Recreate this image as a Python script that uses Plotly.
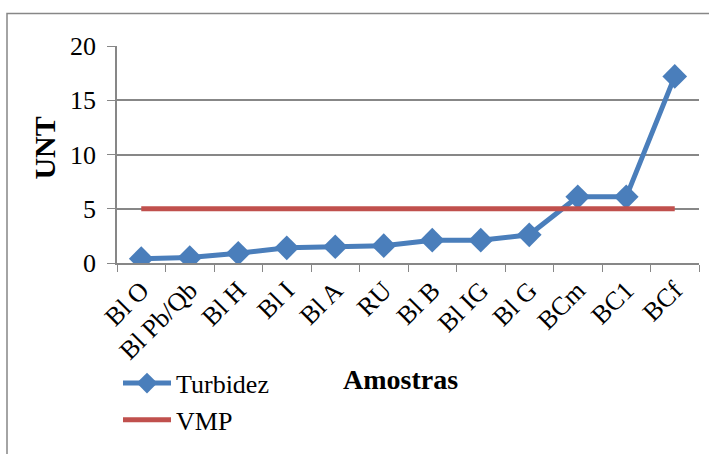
import plotly.graph_objects as go

# Turbidity per sampling point, with the maximum allowed value (VMP)
amostras = ["Bl O", "Bl Pb/Qb", "Bl H", "Bl I", "Bl A", "RU", "Bl B", "Bl IG", "Bl G", "BCm", "BC1", "BCf"]
turbidez = [0.4, 0.5, 0.9, 1.4, 1.5, 1.6, 2.1, 2.1, 2.6, 6.1, 6.1, 17.2]
vmp = [5, 5, 5, 5, 5, 5, 5, 5, 5, 5, 5, 5]
y_ticks = [0, 5, 10, 15, 20]

W, H = 709, 454
L, R, T, B = 117, 10, 46, 188
pw, ph = W - L - R, H - T - B

FONT = "Liberation Serif, Times New Roman, serif"
GREY = "#878787"
BLUE = "#4A7EBB"
RED = "#C0504D"

fig = go.Figure()
fig.add_trace(go.Scatter(
    x=amostras, y=turbidez, name="Turbidez", mode="lines+markers",
    line=dict(color=BLUE, width=5),
    marker=dict(symbol="diamond", size=19, color=BLUE),
))
fig.add_trace(go.Scatter(
    x=amostras, y=vmp, name="VMP", mode="lines",
    line=dict(color=RED, width=5),
))

def px_x(p):
    return (p - L) / pw

def px_y(p):
    return (H - B - p) / ph

# outer chart-area frame
fig.add_shape(type="rect", xref="paper", yref="paper",
              x0=px_x(7), x1=px_x(760), y0=px_y(500), y1=px_y(13),
              line=dict(color=GREY, width=1.5), layer="below")

fig.add_annotation(text="<b>UNT</b>", xref="paper", yref="paper",
                   x=px_x(45), y=px_y(150), xanchor="center", yanchor="middle",
                   showarrow=False, textangle=-90,
                   font=dict(family=FONT, size=30, color="black"))
fig.add_annotation(text="<b>Amostras</b>", xref="paper", yref="paper",
                   x=px_x(400), y=px_y(384), xanchor="center", yanchor="middle",
                   showarrow=False,
                   font=dict(family=FONT, size=28, color="black"))

fig.update_layout(
    width=W, height=H,
    margin=dict(l=L, r=R, t=T, b=B),
    paper_bgcolor="white", plot_bgcolor="white",
    font=dict(family=FONT, size=26, color="black"),
    showlegend=True,
    legend=dict(x=px_x(118), y=px_y(364), xanchor="left", yanchor="top",
                bgcolor="rgba(0,0,0,0)", font=dict(family=FONT, size=26),
                tracegroupgap=0, itemwidth=48),
)
fig.update_xaxes(
    type="category", tickson="boundaries", ticks="outside", ticklen=7,
    tickcolor=GREY, tickangle=-45, showline=True, linecolor=GREY, linewidth=1.5,
    showgrid=False, tickfont=dict(family=FONT, size=26),
    range=[-0.5, len(amostras) - 0.5],
)
fig.update_yaxes(
    range=[0, 20], tickvals=y_ticks, ticks="outside", ticklen=8, tickcolor=GREY,
    ticklabelstandoff=6,
    showline=True, linecolor=GREY, linewidth=1.5, showgrid=True, gridcolor=GREY,
    gridwidth=1.5, zeroline=False, tickfont=dict(family=FONT, size=26),
)

fig.write_html("out.html")
